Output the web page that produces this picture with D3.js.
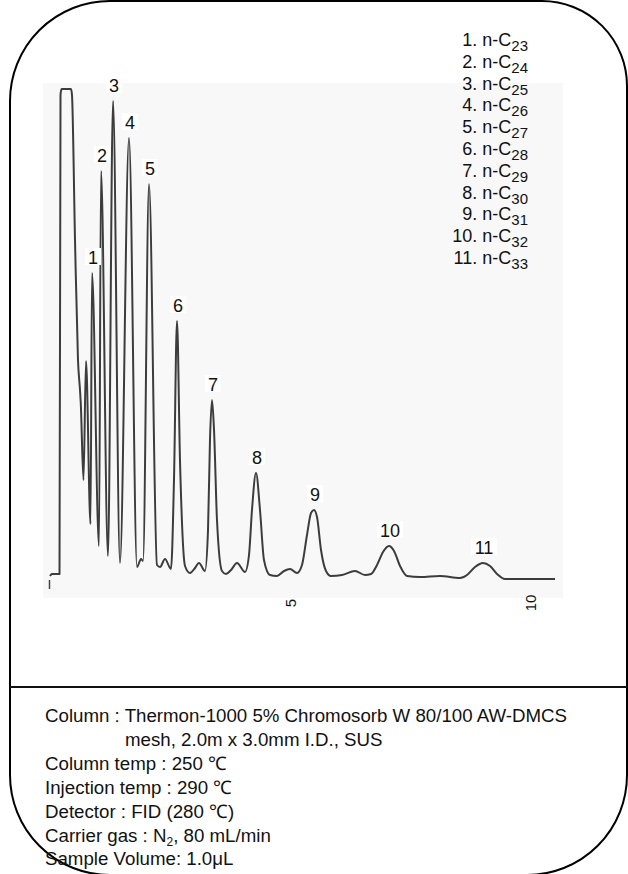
<!DOCTYPE html>
<html>
<head>
<meta charset="utf-8">
<script src="https://cdn.jsdelivr.net/npm/d3@7"></script>
<style>
    body { margin: 0; background: #fff; }
    svg text { font-family: "Liberation Sans", Arial, sans-serif; fill: #111; }
</style>
</head>
<body>
<div id="chart"></div>
<script>
// retention time (min) / detector signal
const traceTime = [0, 0.042, 0.198, 0.219, 0.240, 0.438, 0.458, 0.521, 0.583, 0.625, 0.640,
    0.698, 0.750, 0.844, 0.875, 1.021, 1.063, 1.208, 1.313, 1.458, 1.646, 1.813, 1.896, 1.938,
    2.063, 2.229, 2.292, 2.396, 2.521, 2.583, 2.646, 2.708, 2.813, 2.917, 3.021, 3.104, 3.229,
    3.292, 3.333, 3.375, 3.417, 3.479, 3.583, 3.667, 3.771, 3.896, 4.063, 4.146, 4.208, 4.292,
    4.375, 4.458, 4.583, 4.729, 4.875, 5.000, 5.146, 5.250, 5.354, 5.438, 5.500, 5.563, 5.646,
    5.750, 5.854, 6.083, 6.354, 6.563, 6.688, 6.813, 6.938, 7.063, 7.167, 7.292, 7.438, 7.708,
    8.125, 8.542, 8.688, 8.854, 9.021, 9.167, 9.313, 9.479, 10.0, 10.521];
const traceSignal = [0.4, 0.8, 0.8, 96.6, 97.8, 97.8, 96.6, 67.6, 43.6, 37.6, 35.2,
    19.6, 43.4, 10.8, 61.0, 6.4, 81.4, 4.4, 95.4, 3.0, 88.0, 2.2, 3.8, 3.4,
    78.8, 2.6, 2.2, 3.8, 1.8, 19.6, 51.4, 23.6, 2.4, 1.0, 2.0, 3.0, 1.4,
    9.6, 27.6, 35.6, 29.6, 11.6, 1.4, 0.8, 1.6, 3.0, 1.2, 4.6, 13.6, 21.0,
    13.6, 3.6, 0.6, 0.4, 1.4, 1.8, 1.0, 2.6, 8.6, 13.0, 13.6, 12.2, 5.6,
    1.4, 0.4, 0.6, 1.4, 0.6, 0.8, 2.6, 5.2, 6.4, 5.4, 2.4, 0.4, 0.2,
    0.4, 0.0, 0.6, 2.2, 3.0, 2.4, 0.8, -0.2, -0.2, -0.2];

const peakIds = ["1", "2", "3", "4", "5", "6", "7", "8", "9", "10", "11"];
const peakTimes = [0.875, 1.063, 1.313, 1.646, 2.063, 2.646, 3.375, 4.292, 5.500, 7.063, 9.021];
const peakSignals = [61.0, 81.4, 95.4, 88.0, 78.8, 51.4, 35.6, 21.0, 13.6, 6.4, 3.0];
const carbonNumbers = [23, 24, 25, 26, 27, 28, 29, 30, 31, 32, 33];

const timeTicks = [5, 10];

const conditionLines = [
    ["Column : Thermon-1000 5% Chromosorb W 80/100 AW-DMCS"],
    ["mesh, 2.0m x 3.0mm I.D., SUS"],
    ["Column temp : 250 \u2103"],
    ["Injection temp : 290 \u2103"],
    ["Detector : FID (280 \u2103)"],
    ["Carrier gas : N", "2", ", 80 mL/min"],
    ["Sample Volume: 1.0\u03bcL"]
];

const width = 628, height = 874;

const svg = d3.select("#chart").append("svg")
    .attr("width", width)
    .attr("height", height);

// rounded card outline + divider
let L = 10, R = 627, T = 1, B = 875;
let frame = d3.path();
frame.moveTo(L, T + 100);
frame.arcTo(L, T, L + 100, T, 100);
frame.lineTo(R - 85, T);
frame.arcTo(R, T, R, T + 85, 85);
frame.lineTo(R, B - 100);
frame.arcTo(R, B, R - 100, B, 100);
frame.lineTo(L + 100, B);
frame.arcTo(L, B, L, B - 100, 100);
frame.closePath();

svg.append("path")
    .attr("d", frame.toString())
    .attr("fill", "none")
    .attr("stroke", "#000")
    .attr("stroke-width", 2);

svg.append("line")
    .attr("x1", L).attr("x2", R)
    .attr("y1", 687).attr("y2", 687)
    .attr("stroke", "#111")
    .attr("stroke-width", 2.2);

// faint scanned paper behind the trace
svg.append("rect")
    .attr("x", 43).attr("y", 83)
    .attr("width", 520).attr("height", 515)
    .attr("fill", "#f8f8f8");

// scales
let x = d3.scaleLinear().domain([0, 10]).range([50, 530]);
let y = d3.scaleLinear().domain([0, 100]).range([578, 78]);

let trace = traceTime.map((t, i) => ({t: t, v: traceSignal[i]}));

let line = d3.line()
    .x(d => x(d.t))
    .y(d => y(d.v))
    .curve(d3.curveMonotoneX);

svg.append("path")
    .datum(trace)
    .attr("d", line)
    .attr("fill", "none")
    .attr("stroke", "#3c3c3c")
    .attr("stroke-width", 2)
    .attr("stroke-linejoin", "round");

// injection mark
svg.append("line")
    .attr("x1", x(0) - 0.5).attr("x2", x(0) - 0.5)
    .attr("y1", y(0) + 2).attr("y2", y(0) + 11)
    .attr("stroke", "#444")
    .attr("stroke-width", 1.5);

// time axis: only the rotated numbers are printed
let axis = svg.append("g")
    .attr("class", "x-axis")
    .attr("transform", "translate(0, 603)")
    .call(d3.axisBottom(x).tickValues(timeTicks).tickSize(0).tickFormat(d3.format("d")));
axis.select(".domain").remove();
axis.selectAll("text")
    .attr("x", 0).attr("y", 0)
    .attr("dy", "0.35em")
    .attr("transform", "rotate(-90)")
    .attr("text-anchor", "middle")
    .style("font-size", "15px")
    .style("font-family", "'Liberation Sans', Arial, sans-serif")
    .attr("fill", "#111");

// peak numbers
let labels = svg.selectAll(".peak-label")
    .data(peakIds)
    .enter()
    .append("g")
    .attr("class", "peak-label")
    .attr("transform", (d, i) => `translate(${x(peakTimes[i]) + 1}, ${y(peakSignals[i]) - 9})`);

labels.append("rect")
    .attr("x", d => d.length > 1 ? -13 : -8)
    .attr("y", -16)
    .attr("width", d => d.length > 1 ? 26 : 16)
    .attr("height", 17)
    .attr("fill", "#fff");

labels.append("text")
    .attr("text-anchor", "middle")
    .style("font-size", "18px")
    .text(d => d);

// compound legend
let legend = svg.append("g").attr("class", "legend");
let rows = legend.selectAll("text")
    .data(carbonNumbers)
    .enter()
    .append("text")
    .attr("x", 528)
    .attr("y", (d, i) => 46 + i * 21.8)
    .attr("text-anchor", "end")
    .style("font-size", "18px");
rows.append("tspan").text((d, i) => `${i + 1}. n-C`);
rows.append("tspan")
    .attr("dy", 5)
    .style("font-size", "15px")
    .text(d => d);

// run conditions
let cond = svg.append("g").attr("class", "conditions");
let condText = cond.selectAll("text")
    .data(conditionLines)
    .enter()
    .append("text")
    .attr("x", (d, i) => i === 1 ? 125 : 45)
    .attr("y", (d, i) => 722 + i * 23.9)
    .style("font-size", "18.7px");
condText.each(function(parts) {
    let t = d3.select(this);
    t.append("tspan").text(parts[0]);
    if (parts.length > 1) {
        t.append("tspan").attr("dy", 4).style("font-size", "12px").text(parts[1]);
        t.append("tspan").attr("dy", -4).text(parts[2]);
    }
});
</script>
</body>
</html>
